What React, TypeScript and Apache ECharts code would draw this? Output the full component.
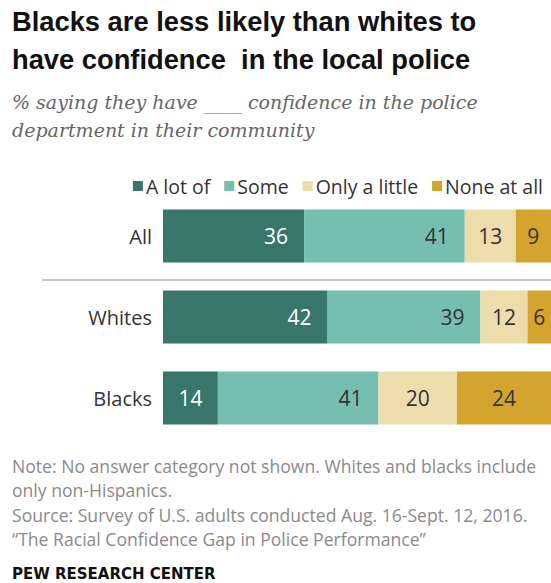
import React, { useEffect, useRef } from "react";
import * as echarts from "echarts";

const categories = ["All", "Whites", "Blacks"];
const seriesNames = ["A lot of", "Some", "Only a little", "None at all"];
const aLotOf = [36, 42, 14];
const some = [41, 39, 41];
const onlyALittle = [13, 12, 20];
const noneAtAll = [9, 6, 24];
const colors = ["#38766a", "#76bfb0", "#eddcac", "#d3a52f"];
const labelColors = ["#ffffff", "#333333", "#333333", "#333333"];

const titleLines = ["Blacks are less likely than whites to", "have confidence  in the local police"];
const subtitleLines = ["% saying they have ____ confidence in the police", "department in their community"];
const noteLines = [
  "Note: No answer category not shown. Whites and blacks include",
  "only non-Hispanics.",
  "Source: Survey of U.S. adults conducted Aug. 16-Sept. 12, 2016.",
  "\u201cThe Racial Confidence Gap in Police Performance\u201d",
];
const credit = "PEW RESEARCH CENTER";

export default function App() {
  const ref = useRef<HTMLDivElement>(null);
  useEffect(() => {
    if (!ref.current) return;
    const chart = echarts.init(ref.current, null, { renderer: "svg" });
    const all = [aLotOf, some, onlyALittle, noneAtAll];
    const sans = "'Open Sans', Roboto, sans-serif";
    const graphic: any[] = [];
    titleLines.forEach((t, i) =>
      graphic.push({
        type: "text",
        left: 12,
        top: 8 + i * 38,
        style: { text: t, font: "bold 27.3px 'Liberation Sans', Arial, sans-serif", fill: "#111" },
      })
    );
    subtitleLines.forEach((t, i) =>
      graphic.push({
        type: "text",
        left: 12,
        top: 92 + i * 28,
        style: { text: t, font: "italic 19px 'DejaVu Serif', serif", fill: "#666" },
      })
    );
    noteLines.forEach((t, i) =>
      graphic.push({
        type: "text",
        left: 12,
        top: 457 + i * 24.3,
        style: { text: t, font: `17.6px ${sans}`, fill: "#8a8a8a" },
      })
    );
    graphic.push({
      type: "text",
      left: 12,
      top: 566,
      style: { text: credit, font: "bold 15px 'DejaVu Sans', sans-serif", fill: "#111" },
    });
    graphic.push({
      type: "line",
      shape: { x1: 42, y1: 280, x2: 551, y2: 280 },
      style: { stroke: "#b0b0b0", lineWidth: 1.5 },
    });

    chart.setOption({
      animation: false,
      graphic,
      legend: {
        top: 171,
        right: 3,
        itemWidth: 10,
        itemHeight: 10,
        itemGap: 14,
        icon: "rect",
        textStyle: { fontSize: 19.5, color: "#333", fontFamily: sans, padding: [0, 0, 0, -2] },
        data: seriesNames,
      },
      grid: { left: 163, right: 0, top: 195.5, height: 243 },
      xAxis: { type: "value", min: 0, max: 99, show: false },
      yAxis: {
        type: "category",
        data: categories,
        inverse: true,
        axisLine: { show: false },
        axisTick: { show: false },
        axisLabel: { fontSize: 20, color: "#333", fontFamily: sans, margin: 11 },
      },
      series: all.map((vals, si) => ({
        name: seriesNames[si],
        type: "bar",
        stack: "total",
        barWidth: 53,
        itemStyle: { color: colors[si] },
        data: vals.map((v) => ({
          value: v,
          label: {
            show: true,
            position: si < 2 && v >= 20 ? "insideRight" : "inside",
            distance: 16,
            color: labelColors[si],
            fontSize: 21,
            fontFamily: sans,
          },
        })),
      })),
    });
    return () => chart.dispose();
  }, []);
  return (
    <div
      ref={ref}
      style={{ position: "fixed", left: 0, top: 0, width: 551, height: 583, background: "#fff" }}
    />
  );
}
